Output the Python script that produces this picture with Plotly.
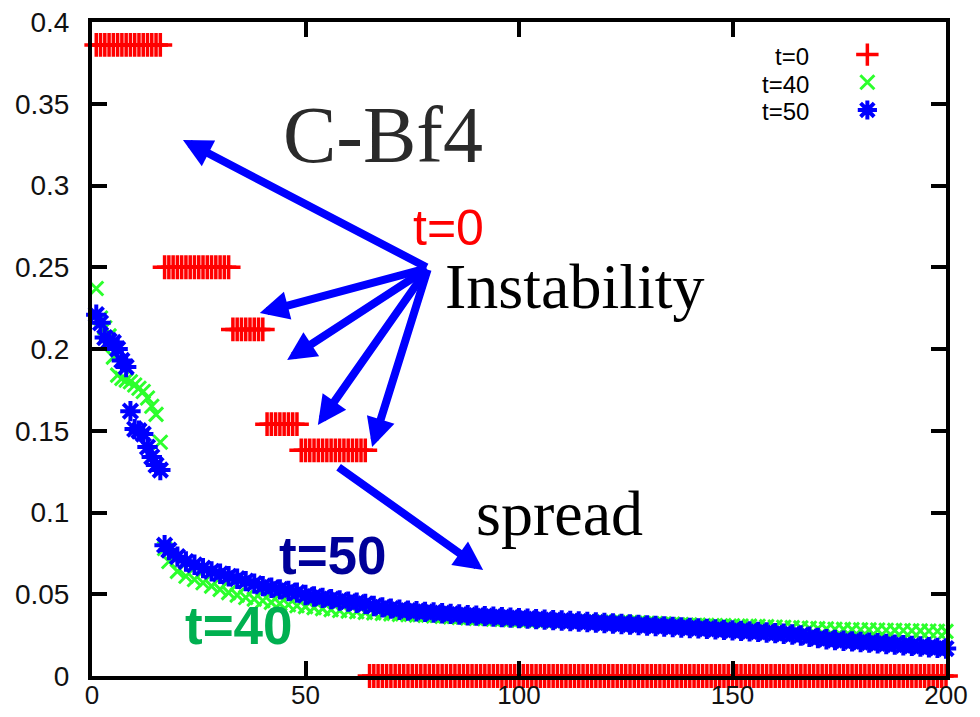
import plotly.graph_objects as go

# ---------------- data ----------------
# t=0 : step function, plateau levels and how many consecutive indices sit on each
t0_levels = [0.386, 0.250, 0.212, 0.154, 0.138, 0.0]
t0_counts = [16, 16, 8, 8, 16, 136]

# t=40 and t=50 : first cluster at indices 1..16
head_x = list(range(1, 17))
t40_head = [0.237, 0.219, 0.213, 0.208, 0.195, 0.184, 0.182, 0.181,
            0.180, 0.178, 0.176, 0.174, 0.170, 0.165, 0.160, 0.143]
t50_head = [0.221, 0.216, 0.207, 0.205, 0.204, 0.200, 0.193, 0.189,
            0.162, 0.151, 0.150, 0.148, 0.140, 0.134, 0.129, 0.126]

# tail, sampled every second index
tail_x = [17] + list(range(18, 201, 2))
t40_tail = [0.078, 0.070, 0.064, 0.061, 0.059, 0.057, 0.055, 0.053, 0.051, 0.0495,
            0.048, 0.047, 0.046, 0.045, 0.0443, 0.0436, 0.043, 0.0424, 0.0418, 0.0412,
            0.0406, 0.0401, 0.0397, 0.0393, 0.0389, 0.0386, 0.0383, 0.0380, 0.0377, 0.0375,
            0.0372, 0.0370, 0.0367, 0.0364, 0.0361, 0.0358, 0.0355, 0.0352, 0.0350, 0.0348,
            0.0346, 0.0344, 0.0342, 0.0341, 0.0340, 0.0338, 0.0337, 0.0336, 0.0335, 0.0334,
            0.0333, 0.0332, 0.0331, 0.0330, 0.0329, 0.0327, 0.0325, 0.0323, 0.0321, 0.0319,
            0.0317, 0.0315, 0.0313, 0.0311, 0.0310, 0.0309, 0.0308, 0.0307, 0.0306, 0.0305,
            0.0304, 0.0302, 0.0300, 0.0298, 0.0296, 0.0294, 0.0292, 0.0290, 0.0288, 0.0286,
            0.0285, 0.0284, 0.0283, 0.0282, 0.0281, 0.0280, 0.0279, 0.0278, 0.0277, 0.0276,
            0.0275, 0.0274, 0.0273]
t50_tail = [0.080, 0.077, 0.073, 0.070, 0.068, 0.066, 0.064, 0.0625, 0.061, 0.0595,
            0.058, 0.0565, 0.055, 0.054, 0.053, 0.052, 0.051, 0.0495, 0.0486, 0.0478,
            0.0470, 0.0462, 0.0455, 0.0448, 0.0441, 0.0428, 0.0420, 0.0412, 0.0405, 0.0400,
            0.0396, 0.0392, 0.0388, 0.0384, 0.0380, 0.0376, 0.0372, 0.0369, 0.0366, 0.0363,
            0.0360, 0.0357, 0.0354, 0.0351, 0.0348, 0.0345, 0.0342, 0.0339, 0.0336, 0.0333,
            0.0330, 0.0327, 0.0324, 0.0321, 0.0318, 0.0315, 0.0312, 0.0309, 0.0306, 0.0303,
            0.0300, 0.0297, 0.0294, 0.0291, 0.0288, 0.0285, 0.0282, 0.0279, 0.0276, 0.0273,
            0.0270, 0.0266, 0.0262, 0.0258, 0.0254, 0.0248, 0.0240, 0.0232, 0.0225, 0.0220,
            0.0216, 0.0212, 0.0208, 0.0204, 0.0200, 0.0196, 0.0192, 0.0188, 0.0184, 0.0180,
            0.0176, 0.0172, 0.0168]

series_names = ["t=0", "t=40", "t=50"]
x_ticks = [0, 50, 100, 150, 200]
y_ticks = [0, 0.05, 0.1, 0.15, 0.2, 0.25, 0.3, 0.35, 0.4]

# ---------------- build ----------------
t0_y = []
for lev, n in zip(t0_levels, t0_counts):
    t0_y.extend([lev] * n)
t0_x = list(range(1, len(t0_y) + 1))

t40_x = head_x + tail_x
t40_y = t40_head + t40_tail
t50_x = head_x + tail_x
t50_y = t50_head + t50_tail

RED = "#ff0000"
GREEN = "#2cff2c"
BLUE = "#0000ff"

fig = go.Figure()
fig.add_trace(go.Scatter(
    x=t0_x, y=t0_y, mode="markers", name="", hovertext=series_names[0],
    cliponaxis=False,
    marker=dict(symbol="cross-thin", size=17, color=RED, line=dict(width=3.5, color=RED))))
fig.add_trace(go.Scatter(
    x=t40_x, y=t40_y, mode="markers", name="", hovertext=series_names[1],
    cliponaxis=False,
    marker=dict(symbol="x-thin", size=14, color=GREEN, line=dict(width=3, color=GREEN))))
fig.add_trace(go.Scatter(
    x=t50_x, y=t50_y, mode="markers", name="", hovertext=series_names[2],
    cliponaxis=False,
    marker=dict(symbol="asterisk", size=17, color=BLUE, line=dict(width=4, color=BLUE))))

axis_common = dict(
    showline=True, linewidth=4, linecolor="black", mirror="ticks",
    ticks="inside", ticklen=15, tickwidth=4, tickcolor="black",
    showgrid=False, zeroline=False, automargin=False,
)
fig.update_xaxes(range=[0, 200], tickvals=x_ticks, ticklabelstandoff=-7,
                 tickfont=dict(family="Liberation Sans", size=26, color="#111"), **axis_common)
fig.update_yaxes(range=[0, 0.4], tickvals=y_ticks, ticklabelstandoff=13,
                 tickfont=dict(family="Liberation Sans", size=28, color="#111"), **axis_common)

# legend texts (gnuplot style: label left of the key symbol)
leg_y = [0.3792, 0.362, 0.3455]
for name, yy in zip(series_names, leg_y):
    fig.add_annotation(x=168.3, y=yy, xref="x", yref="y", text=name, showarrow=False,
                       xanchor="right", yanchor="middle",
                       font=dict(family="Liberation Sans", size=24, color="black"))

# text labels
fig.add_annotation(x=68.1, y=0.331, text="C-Bf4", showarrow=False,
                   font=dict(family="Liberation Serif", size=80, color="#2a2a2a"))
fig.add_annotation(x=83.6, y=0.274, text="t=0", showarrow=False,
                   font=dict(family="Liberation Sans", size=50, color=RED))
fig.add_annotation(x=113.0, y=0.2385, text="Instability", showarrow=False,
                   font=dict(family="Liberation Serif", size=64, color="black"))
fig.add_annotation(x=109.6, y=0.0995, text="spread", showarrow=False,
                   font=dict(family="Liberation Serif", size=64, color="black"))
fig.add_annotation(x=56.4, y=0.0735, text="<b>t=50</b>", showarrow=False,
                   font=dict(family="Liberation Sans", size=53, color="#000099"))
fig.add_annotation(x=34.4, y=0.031, text="<b>t=40</b>", showarrow=False,
                   font=dict(family="Liberation Sans", size=53, color="#00b050"))

# arrows: (tip x, tip y, tail x, tail y) in data units
arrows = [
    (21.3, 0.3278, 78.7, 0.2495),
    (39.3, 0.2220, 78.7, 0.2495),
    (45.7, 0.1933, 78.7, 0.2495),
    (52.9, 0.1535, 78.7, 0.2495),
    (65.6, 0.1401, 78.7, 0.2495),
    (91.6, 0.0648, 57.4, 0.1284),
]
for tx, ty, sx, sy in arrows:
    fig.add_annotation(x=tx, y=ty, ax=sx, ay=sy, xref="x", yref="y", axref="x", ayref="y",
                       text="", showarrow=True, arrowhead=2, arrowsize=0.72,
                       arrowwidth=8, arrowcolor=BLUE, standoff=0, startstandoff=0)

fig.update_layout(
    width=980, height=717,
    margin=dict(l=92, r=34, t=22, b=41),
    plot_bgcolor="white", paper_bgcolor="white",
    showlegend=True,
    legend=dict(x=0.8845, y=0.979, xanchor="left", yanchor="top",
                bgcolor="rgba(0,0,0,0)", font=dict(size=19),
                itemsizing="trace"),
)

fig.write_html("out.html")
